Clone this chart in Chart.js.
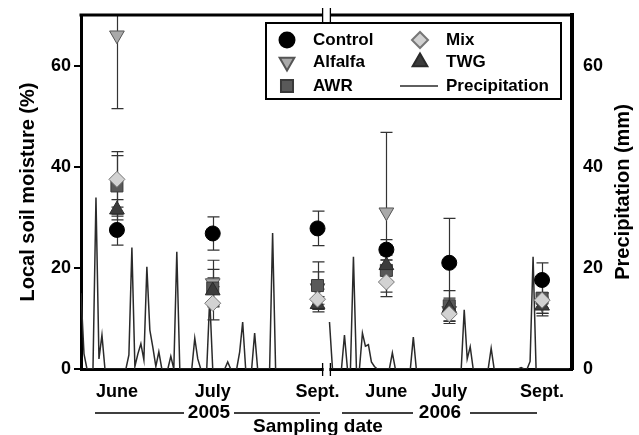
<!DOCTYPE html>
<html>
<head>
<meta charset="utf-8">
<script src="https://cdn.jsdelivr.net/npm/chart.js@4.4.0/dist/chart.umd.min.js"></script>
<style>
  body { margin: 0; background: #fff; }
  canvas { display: block; }
</style>
</head>
<body>
<canvas id="chart" width="639" height="435"></canvas>
<script>
// sampling dates, in days from the start of the precipitation record
const sampleDays = [12, 44, 79, 102, 123, 154];
const sampleLabels = ['June', 'July', 'Sept.', 'June', 'July', 'Sept.'];
const yearLabels = ['2005', '2006'];
const moistureTicks = [0, 20, 40, 60];
const precipTicks = [0, 20, 40, 60];

// local soil moisture (%) with error bars
const control = [27.5, 26.8, 27.8, 23.6, 21.0, 17.6];
const controlErr = [3.0, 3.3, 3.4, 2.0, 8.8, 3.4];
const alfalfa = [66.0, 17.0, 16.0, 31.0, 11.5, 13.0];
const alfalfaErr = [14.5, 4.5, 3.2, 15.8, 2.5, 2.0];
const awr = [36.2, 16.0, 16.5, 19.5, 12.5, 14.0];
const awrErr = [6.0, 3.7, 4.7, 2.0, 3.0, 3.5];
const mix = [37.5, 13.0, 13.8, 17.2, 10.9, 13.6];
const mixErr = [5.5, 3.3, 2.0, 2.9, 1.5, 1.5];
const twg = [31.5, 15.5, 12.8, 20.5, 12.0, 12.5];
const twgErr = [2.0, 2.5, 1.5, 2.0, 1.0, 1.5];

// daily precipitation (mm); 2005 from day 0, 2006 from day 83
const precip2005 = [
  15, 3, 0, 0, 0, 33.9, 2, 6.7, 0, 0, 0, 0, 0, 0, 0, 0, 2.8, 24, 0.5, 3,
  5, 1.8, 20.2, 7.7, 4.3, 0.5, 3.4, 0, 0, 0, 2.5, 0, 23.2, 0, 0, 0, 0, 0, 6.1, 2,
  0, 0, 0, 14, 0, 0, 0, 0, 0, 1.4, 0, 0, 0, 3.4, 9.3, 0, 0, 0, 7.1, 0,
  0, 0, 0, 0, 26.9, 0, 0, 0, 0, 0, 0, 0, 0, 0, 0, 0, 0, 0, 0, 0, 0
];
const precip2006Start = 83;
const precip2006 = [
  9.3, 0, 0, 0, 0, 6.7, 0, 0, 22.2, 0, 0, 7.1, 4.5, 4.8, 1.4, 0.5, 0, 0, 0, 0,
  0, 3.2, 0, 0, 0, 0, 0, 0, 6.3, 0, 0, 0, 0, 0, 0, 0, 0, 0, 0, 0,
  0, 0, 0, 0, 0, 11.7, 2, 4.4, 0, 0, 0, 0, 0, 0, 4.1, 0, 0, 0, 0, 0,
  0, 0, 0, 0, 0.3, 0, 0, 1.5, 22.2, 0, 0, 0, 0, 0, 0, 0, 0, 0, 0, 0, 0
];

const breakFrom = 80.7, breakTo = 83.3;
const FONT = "'Liberation Sans', Arial, sans-serif";

function pts(vals) { return vals.map((v, i) => ({ x: sampleDays[i], y: v })); }

const precipData = precip2005.map((v, i) => ({ x: i, y: v }))
  .concat([{ x: 82, y: null }])
  .concat(precip2006.map((v, i) => ({ x: precip2006Start + i, y: v })));

const series = [
  { label: 'Control', data: control, err: controlErr, style: 'circle', r: 7.5, rot: 0, fill: '#000', line: '#000', order: 1 },
  { label: 'Alfalfa', data: alfalfa, err: alfalfaErr, style: 'triangle', r: 8.5, rot: 180, fill: '#a9a9a9', line: '#555', order: 5 },
  { label: 'AWR', data: awr, err: awrErr, style: 'rect', r: 8.5, rot: 0, fill: '#595959', line: '#3a3a3a', order: 4 },
  { label: 'Mix', data: mix, err: mixErr, style: 'rectRot', r: 8, rot: 0, fill: '#d2d2d2', line: '#777', order: 2 },
  { label: 'TWG', data: twg, err: twgErr, style: 'triangle', r: 8.5, rot: 0, fill: '#3c3c3c', line: '#2a2a2a', order: 3 }
];

const datasets = series.map(s => ({
  type: 'scatter',
  label: s.label,
  data: pts(s.data),
  yAxisID: 'y',
  pointStyle: s.style,
  pointRotation: s.rot,
  pointRadius: s.r,
  pointBackgroundColor: s.fill,
  pointBorderColor: s.line,
  pointBorderWidth: 1,
  showLine: false,
  order: s.order
}));
datasets.push({
  type: 'line',
  label: 'Precipitation',
  data: precipData,
  yAxisID: 'y2',
  borderColor: '#2a2a2a',
  borderWidth: 1.5,
  pointRadius: 0,
  tension: 0,
  spanGaps: false,
  order: 10
});
const precipIndex = datasets.length - 1;

function drawErrorBars(chart) {
  const ctx = chart.ctx, xs = chart.scales.x, ys = chart.scales.y, a = chart.chartArea;
  ctx.save();
  ctx.beginPath();
  ctx.rect(a.left, a.top, a.right - a.left, a.bottom - a.top);
  ctx.clip();
  ctx.strokeStyle = '#333';
  ctx.lineWidth = 1.2;
  series.forEach(s => {
    s.data.forEach((v, i) => {
      const px = Math.round(xs.getPixelForValue(sampleDays[i])) + 0.5;
      const t = ys.getPixelForValue(v + s.err[i]);
      const b = ys.getPixelForValue(v - s.err[i]);
      ctx.beginPath();
      ctx.moveTo(px, t); ctx.lineTo(px, b);
      ctx.moveTo(px - 6, t); ctx.lineTo(px + 6, t);
      ctx.moveTo(px - 6, b); ctx.lineTo(px + 6, b);
      ctx.stroke();
    });
  });
  ctx.restore();
}

function point(ctx, s, x, y) {
  ctx.fillStyle = s.fill;
  ctx.strokeStyle = s.line;
  Chart.helpers.drawPoint(ctx, { pointStyle: s.style, rotation: s.rot, radius: s.r, borderWidth: 1 }, x, y);
}

const decor = {
  id: 'decor',
  afterDatasetDraw(chart, args) {
    if (args.index === precipIndex) drawErrorBars(chart);
  },
  afterDraw(chart) {
    const ctx = chart.ctx, xs = chart.scales.x, a = chart.chartArea;
    const b1 = xs.getPixelForValue(breakFrom), b2 = xs.getPixelForValue(breakTo);
    ctx.save();
    // top frame with break
    ctx.strokeStyle = '#000';
    ctx.lineWidth = 3;
    ctx.beginPath();
    ctx.moveTo(a.left - 1.5, a.top); ctx.lineTo(b1, a.top);
    ctx.moveTo(b2, a.top); ctx.lineTo(a.right + 2, a.top);
    ctx.stroke();
    // gap in bottom axis
    ctx.fillStyle = '#fff';
    ctx.fillRect(b1 + 1, a.bottom - 2, b2 - b1 - 2, 4);
    ctx.lineWidth = 1.3;
    ctx.beginPath();
    [b1, b2].forEach(bx => {
      ctx.moveTo(bx, a.top - 7); ctx.lineTo(bx, a.top + 7);
      ctx.moveTo(bx, a.bottom - 6); ctx.lineTo(bx, a.bottom + 7);
    });
    ctx.stroke();

    // right axis title, reading bottom to top
    ctx.fillStyle = '#000';
    ctx.textAlign = 'center';
    ctx.textBaseline = 'middle';
    ctx.font = 'bold 20px ' + FONT;
    ctx.save();
    ctx.translate(623, (a.top + a.bottom) / 2);
    ctx.rotate(-Math.PI / 2);
    ctx.fillText('Precipitation (mm)', 0, 0);
    ctx.restore();

    // year brackets and x title
    ctx.font = 'bold 19px ' + FONT;
    const yy = 413;
    ctx.lineWidth = 1.3;
    ctx.beginPath();
    ctx.moveTo(95, yy); ctx.lineTo(184, yy);
    ctx.moveTo(234, yy); ctx.lineTo(320, yy);
    ctx.moveTo(342, yy); ctx.lineTo(413, yy);
    ctx.moveTo(470, yy); ctx.lineTo(537, yy);
    ctx.stroke();
    ctx.fillText(yearLabels[0], 209, yy);
    ctx.fillText(yearLabels[1], 440, yy);
    ctx.fillText('Sampling date', 318, 427);

    // legend
    ctx.lineWidth = 2;
    ctx.strokeStyle = '#000';
    ctx.strokeRect(266, 23, 295, 76);
    ctx.font = 'bold 17px ' + FONT;
    ctx.textAlign = 'left';
    const rows = [40, 62, 86];
    [0, 1, 2].forEach((k, r) => {
      point(ctx, series[k], 287, rows[r]);
      ctx.fillStyle = '#000';
      ctx.fillText(series[k].label, 313, rows[r]);
    });
    [3, 4].forEach((k, r) => {
      point(ctx, series[k], 420, rows[r]);
      ctx.fillStyle = '#000';
      ctx.fillText(series[k].label, 446, rows[r]);
    });
    ctx.strokeStyle = '#2a2a2a';
    ctx.lineWidth = 1.5;
    ctx.beginPath();
    ctx.moveTo(400, rows[2]); ctx.lineTo(438, rows[2]);
    ctx.stroke();
    ctx.fillStyle = '#000';
    ctx.fillText(datasets[precipIndex].label, 446, rows[2]);
    ctx.restore();
  }
};

new Chart(document.getElementById('chart'), {
  data: { datasets: datasets },
  options: {
    responsive: false,
    animation: false,
    devicePixelRatio: 1,
    layout: { padding: { top: 15, left: 0, right: 0, bottom: 0 } },
    plugins: { legend: { display: false }, tooltip: { enabled: false } },
    scales: {
      x: {
        type: 'linear',
        min: 0,
        max: 164,
        position: 'bottom',
        grid: { display: false },
        border: { display: true, color: '#000', width: 3 },
        afterBuildTicks: s => { s.ticks = sampleDays.map(v => ({ value: v })); },
        afterFit: s => { s.height = 66; },
        ticks: {
          autoSkip: false,
          maxRotation: 0,
          padding: 4,
          color: '#000',
          font: { family: FONT, size: 18, weight: 'bold' },
          callback: (v) => sampleLabels[sampleDays.indexOf(v)]
        }
      },
      y: {
        position: 'left',
        min: 0,
        max: 70,
        afterBuildTicks: s => { s.ticks = moistureTicks.map(v => ({ value: v })); },
        afterFit: s => { s.width = 81; },
        grid: { drawOnChartArea: false, drawTicks: true, tickLength: 7, color: '#000', lineWidth: 2 },
        border: { display: true, color: '#000', width: 3 },
        ticks: { color: '#000', padding: 3, font: { family: FONT, size: 18, weight: 'bold' } },
        title: {
          display: true,
          text: 'Local soil moisture (%)',
          color: '#000',
          font: { family: FONT, size: 20, weight: 'bold' },
          padding: { top: 16, bottom: 0 }
        }
      },
      y2: {
        position: 'right',
        min: 0,
        max: 70,
        afterBuildTicks: s => { s.ticks = precipTicks.map(v => ({ value: v })); },
        afterFit: s => { s.width = 67; },
        grid: { display: false },
        border: { display: true, color: '#000', width: 4 },
        ticks: { color: '#000', padding: 3, font: { family: FONT, size: 18, weight: 'bold' } }
      }
    }
  },
  plugins: [decor]
});
</script>
</body>
</html>
